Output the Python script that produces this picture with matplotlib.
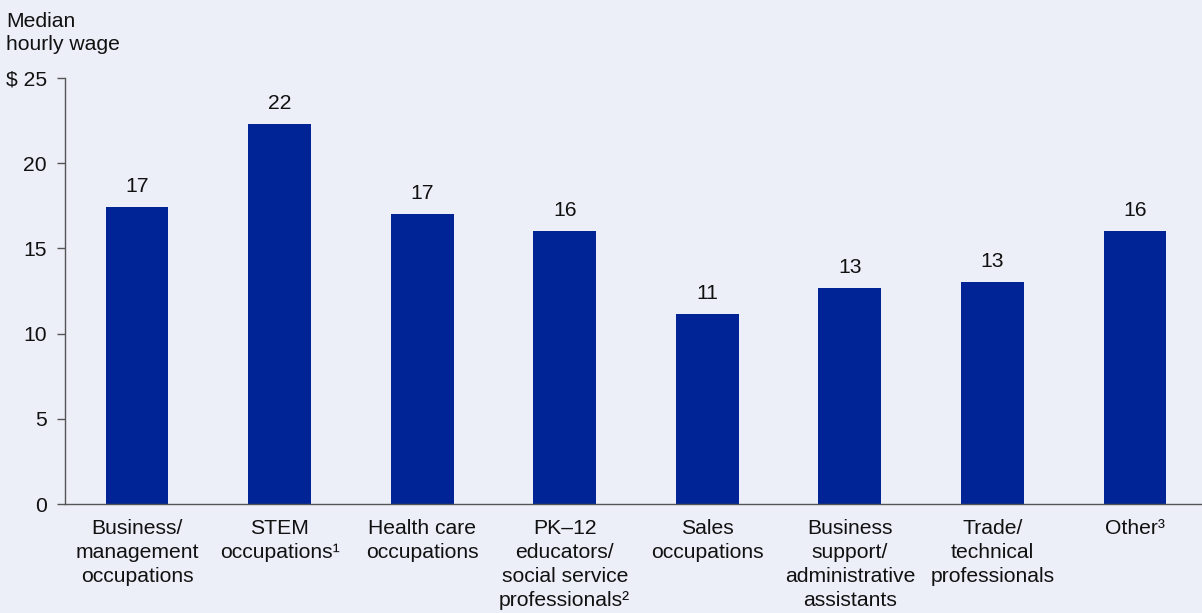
import matplotlib
matplotlib.use('Agg')
import matplotlib.pyplot as plt

# median hourly wage by occupation group
categories = ["Business/\nmanagement\noccupations",
              "STEM\noccupations\u00b9",
              "Health care\noccupations",
              "PK\u201312\neducators/\nsocial service\nprofessionals\u00b2",
              "Sales\noccupations",
              "Business\nsupport/\nadministrative\nassistants",
              "Trade/\ntechnical\nprofessionals",
              "Other\u00b3"]
wages = [17.45, 22.3, 17.0, 16.0, 11.15, 12.7, 13.0, 16.0]
yticks = [0, 5, 10, 15, 20, 25]

BG = "#eceff8"
BAR = "#002396"
TXT = "#111111"

plt.rcParams['font.family'] = ['Liberation Sans', 'DejaVu Sans']
plt.rcParams['font.size'] = 15.2

fig = plt.figure(figsize=(12.02, 6.13), dpi=100, facecolor=BG)
ax = fig.add_axes([65 / 1202, 109 / 613, 1 - 65 / 1202, 426 / 613])
ax.set_facecolor(BG)

xs = range(len(wages))
ax.bar(xs, wages, width=0.44, color=BAR, zorder=2)
for x, v in zip(xs, wages):
    ax.text(x, v + 0.65, f"{v:.0f}", ha="center", va="bottom", color=TXT)

ax.set_ylim(0, 25)
ax.set_xlim(-0.505, 7.47)
ax.set_yticks(yticks)
ax.set_yticklabels([("$ %d" % t) if t == 25 else str(t) for t in yticks])
ax.set_xticks(list(xs))
ax.set_xticklabels(categories, linespacing=1.33)
ax.tick_params(axis="y", length=6, width=1, color="#555555", pad=7, labelcolor=TXT)
ax.tick_params(axis="x", length=0, pad=11, labelcolor=TXT)

for s in ["top", "right"]:
    ax.spines[s].set_visible(False)
for s in ["left", "bottom"]:
    ax.spines[s].set_color("#555555")
    ax.spines[s].set_linewidth(1)

fig.text(6 / 1202, 1 - 12 / 613, "Median\nhourly wage", ha="left", va="top",
         color=TXT, linespacing=1.3)

fig.savefig("out.png", dpi=100, facecolor=BG)
